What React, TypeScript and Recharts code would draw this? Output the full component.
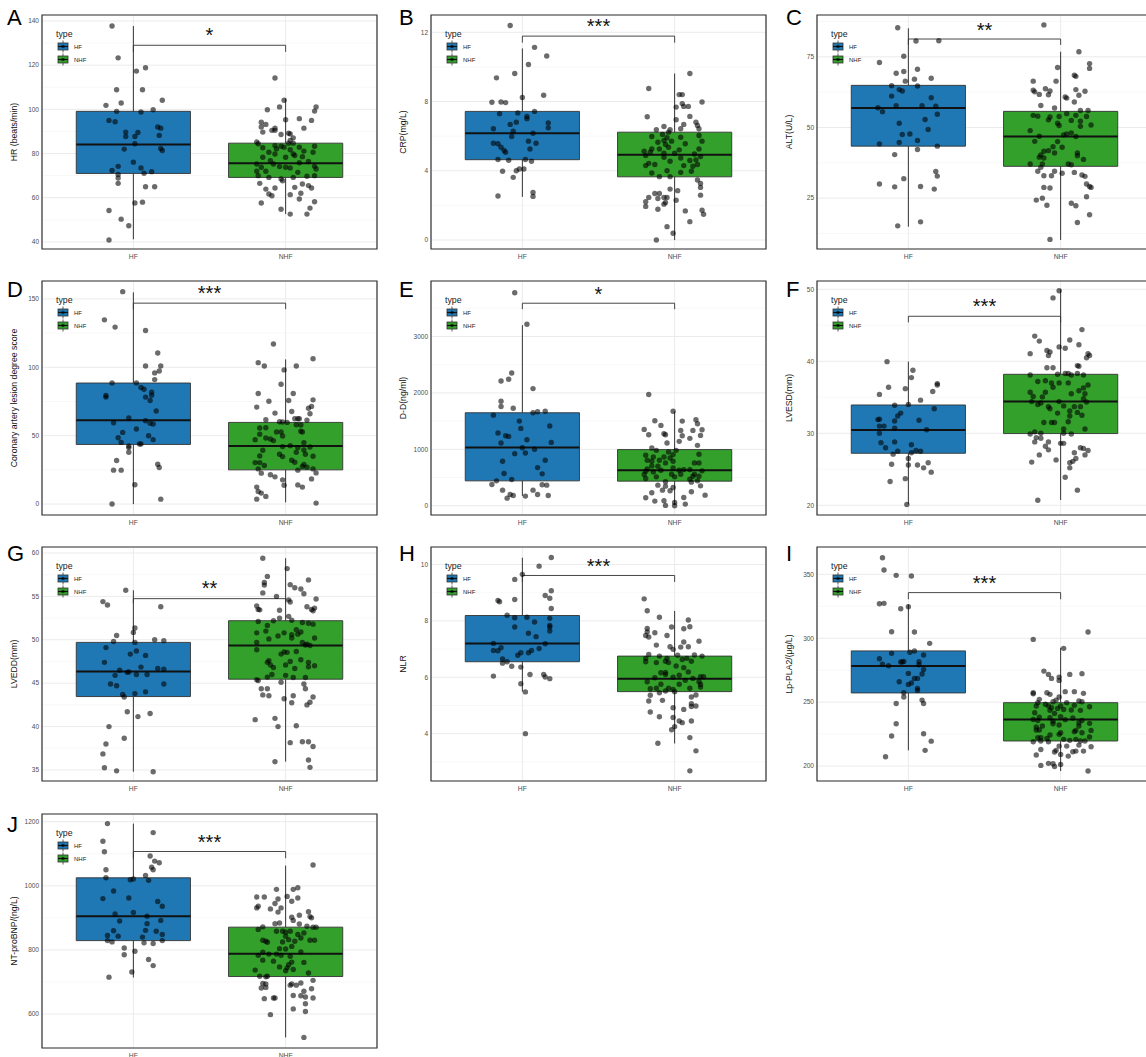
import React from 'react';
import {
  ScatterChart, Scatter, XAxis, YAxis, CartesianGrid, ReferenceArea, ReferenceLine,
  ReferenceDot, Legend, Label,
} from 'recharts';

const FONT = '"Liberation Sans", Arial, Helvetica, sans-serif';
const groups = ['HF', 'NHF'];
const groupColors = ['#1f78b4', '#33a02c'];

// box stats are [lower whisker, q1, median, q3, upper whisker]
// bracket is [bracket y, tick end y, star centre y]

// A – HR
const hrTicks = [40, 60, 80, 100, 120, 140];
const hrMinor = [50, 70, 90, 110, 130];
const hrDomain = [36.8, 142.7];
const hrBoxHF = [41.2, 71.0, 84.1, 99.1, 137.7];
const hrBoxNHF = [52.6, 69.2, 75.6, 84.7, 104.9];
const hrBracket = [129, 126, 135.5];
const hrHF = [[-0.14,137.7],[-0.10,123.3],[-0.11,108.9],[0.02,117.3],[0.08,118.8],[0.06,108.9],[-0.18,101.8],[-0.08,102.9],[0.19,104.1],[-0.11,99.1],[0.13,99.8],[0.05,98.8],[-0.16,95.0],[-0.12,94.4],[-0.05,89.7],[-0.05,87.7],[0.03,89.5],[0.01,87.7],[0.16,92.0],[0.18,91.5],[0.17,88.2],[0.01,84.4],[-0.06,82.0],[0.18,82.3],[0.19,81.4],[0.0,76.1],[-0.10,74.2],[0.05,73.5],[-0.14,72.3],[0.12,71.8],[0.07,71.1],[-0.10,70.5],[-0.10,68.9],[-0.10,66.5],[0.08,65.0],[0.14,65.0],[0.01,57.6],[0.06,58.0],[-0.16,54.2],[-0.08,50.3],[-0.03,47.3],[-0.16,40.9]];
const hrNHF = [[-0.07,114.2],[-0.01,104.1],[-0.04,101.1],[-0.12,99.8],[0.20,101.1],[0.19,99.2],[0.0,95.3],[0.09,95.8],[0.17,95.0],[-0.16,94.2],[-0.13,93.2],[-0.16,92.0],[-0.07,91.5],[-0.09,90.5],[-0.07,90.5],[0.12,91.5],[-0.15,89.7],[0.02,89.2],[0.03,88.9],[-0.03,88.6],[0.03,85.9],[0.05,87.1],[-0.19,85.2],[-0.18,84.4],[0.02,84.7],[0.05,84.7],[-0.07,83.6],[-0.03,83.3],[0.19,83.3],[0.09,82.9],[-0.01,82.9],[-0.15,82.6],[-0.06,82.1],[0.03,81.7],[0.12,81.1],[0.18,80.6],[-0.11,80.6],[-0.07,79.8],[0.05,79.8],[0.06,79.1],[-0.15,78.3],[0.0,78.3],[0.11,78.6],[-0.10,76.8],[0.09,75.8],[-0.19,75.3],[-0.08,75.3],[0.15,76.4],[-0.16,73.8],[-0.04,74.1],[0.0,73.8],[0.03,73.5],[0.19,74.2],[0.20,73.0],[-0.19,72.0],[-0.13,72.0],[0.08,71.5],[-0.18,70.0],[-0.11,69.2],[-0.03,68.5],[0.05,69.2],[0.14,69.7],[0.19,70.0],[-0.02,67.7],[-0.17,66.5],[0.11,66.2],[0.15,65.5],[0.17,64.4],[-0.13,63.9],[-0.07,64.4],[0.06,64.7],[-0.11,61.7],[-0.09,60.9],[0.10,62.0],[0.03,61.4],[-0.16,57.6],[0.19,58.2],[0.09,59.4],[-0.03,54.8],[0.16,55.3],[0.03,52.6],[0.14,52.6]];

// B – CRP
const crpTicks = [0, 4, 8, 12];
const crpMinor = [2, 6, 10];
const crpDomain = [-0.52, 13.0];
const crpBoxHF = [2.49, 4.64, 6.17, 7.43, 11.07];
const crpBoxNHF = [0.0, 3.65, 4.93, 6.23, 9.62];
const crpBracket = [11.78, 11.4, 12.6];
const crpHF = [[-0.08,12.39],[0.08,11.13],[0.16,10.63],[0.04,10.14],[-0.17,9.37],[-0.05,9.62],[0.14,8.36],[0.0,8.23],[-0.20,7.96],[-0.14,7.97],[-0.11,7.94],[0.08,7.43],[-0.15,7.30],[-0.03,7.34],[0.03,7.14],[0.03,7.01],[-0.08,6.68],[-0.04,6.81],[0.17,6.76],[-0.19,6.43],[0.17,6.48],[-0.06,6.29],[0.07,6.17],[-0.07,5.98],[-0.19,5.59],[-0.16,5.56],[0.04,5.71],[0.09,5.59],[-0.14,5.36],[-0.12,5.17],[-0.11,5.07],[0.05,5.26],[-0.16,4.65],[-0.09,4.61],[0.02,4.65],[0.06,4.55],[-0.02,4.10],[0.01,4.10],[-0.04,4.0],[-0.13,3.97],[-0.06,3.62],[-0.16,2.54],[0.07,2.75],[0.07,2.52]];
const crpNHF = [[0.10,9.62],[-0.17,8.75],[0.03,8.40],[0.05,8.40],[0.18,7.97],[0.05,7.88],[0.01,7.68],[0.06,7.72],[0.09,7.72],[-0.18,7.12],[0.10,7.14],[0.01,6.95],[0.06,6.68],[0.14,6.81],[0.15,6.62],[-0.07,6.56],[-0.12,6.37],[-0.03,6.37],[0.04,6.43],[0.16,6.43],[-0.04,6.23],[-0.08,6.10],[-0.15,5.98],[0.04,5.94],[0.16,6.04],[-0.05,5.91],[-0.07,5.75],[-0.11,5.65],[-0.02,5.71],[0.18,5.71],[0.07,5.56],[-0.06,5.52],[-0.04,5.36],[-0.15,5.26],[-0.10,5.26],[0.03,5.21],[0.16,5.26],[-0.20,5.13],[-0.16,5.07],[-0.07,5.01],[0.0,5.01],[0.13,4.97],[-0.19,4.88],[0.17,4.82],[-0.07,4.78],[0.04,4.74],[-0.17,4.43],[-0.03,4.55],[0.10,4.59],[0.14,4.63],[-0.19,4.30],[-0.13,4.36],[0.06,4.30],[0.12,4.26],[0.15,4.36],[-0.05,4.0],[0.04,3.91],[0.11,3.97],[-0.15,3.87],[-0.10,3.66],[-0.03,3.66],[0.15,3.47],[0.17,3.27],[0.17,3.04],[-0.03,2.94],[0.02,2.85],[-0.13,2.69],[-0.10,2.69],[0.17,2.59],[-0.17,2.46],[-0.11,2.40],[-0.07,2.46],[-0.05,2.46],[0.01,2.30],[-0.19,2.21],[-0.06,2.17],[-0.07,2.07],[-0.19,1.94],[-0.11,1.78],[0.07,1.68],[0.18,1.72],[0.19,1.49],[0.10,1.06],[-0.05,0.77],[-0.01,0.39],[-0.12,0.0]];

// C – ALT
const altTicks = [25, 50, 75];
const altMinor = [12.5, 37.5, 62.5, 87.5];
const altDomain = [7.0, 89.8];
const altBoxHF = [14.9, 43.4, 56.9, 64.9, 85.1];
const altBoxNHF = [10.2, 36.25, 46.8, 55.7, 76.8];
const altBracket = [81.3, 79.2, 86];
const altHF = [[-0.07,85.3],[0.05,80.6],[0.20,80.7],[-0.19,73.0],[-0.03,75.2],[-0.08,69.2],[-0.03,69.8],[0.06,70.6],[0.15,67.4],[-0.02,66.4],[0.04,67.1],[-0.11,64.8],[0.06,64.7],[-0.06,63.4],[-0.04,62.9],[-0.11,61.1],[0.15,60.5],[-0.08,57.7],[0.09,57.7],[-0.20,57.0],[0.18,57.5],[-0.17,55.6],[0.19,54.7],[0.11,52.8],[-0.06,51.5],[0.13,49.3],[0.01,47.7],[-0.04,47.5],[0.06,45.4],[-0.06,44.7],[-0.19,44.2],[0.19,43.4],[0.06,42.2],[-0.09,40.4],[0.18,34.4],[0.19,32.8],[-0.03,31.9],[-0.19,30.0],[-0.09,29.0],[0.08,29.1],[0.17,28.2],[0.08,16.6],[-0.07,15.2]];
const altNHF = [[-0.11,86.3],[0.12,76.8],[0.19,72.6],[0.19,70.9],[-0.02,71.2],[-0.18,66.4],[-0.03,66.4],[0.09,68.5],[0.10,68.1],[-0.18,63.2],[-0.10,63.7],[-0.17,62.6],[-0.14,61.7],[-0.07,62.9],[-0.08,61.6],[0.10,63.4],[0.16,62.8],[0.03,60.8],[0.12,61.4],[0.04,60.4],[0.09,59.0],[-0.13,57.8],[-0.04,56.9],[0.13,56.0],[0.18,56.0],[-0.18,54.3],[-0.15,54.0],[-0.07,53.7],[-0.01,53.9],[0.04,54.9],[0.10,54.3],[0.17,53.9],[-0.08,52.7],[-0.02,51.5],[0.07,52.5],[0.13,52.2],[0.20,50.9],[-0.01,50.7],[0.13,50.4],[-0.20,48.9],[0.04,47.7],[0.07,48.1],[0.02,47.4],[-0.14,46.9],[0.10,46.8],[-0.17,45.1],[-0.02,45.0],[-0.05,43.2],[0.01,43.0],[-0.08,41.8],[-0.11,41.6],[-0.04,41.0],[0.11,41.0],[-0.13,40.3],[0.11,40.0],[-0.14,39.5],[-0.11,39.2],[0.15,38.7],[-0.20,37.1],[-0.12,37.1],[0.05,37.1],[0.07,36.8],[-0.13,35.9],[-0.15,34.5],[-0.04,34.5],[0.01,33.8],[0.09,34.1],[-0.11,32.9],[-0.06,32.9],[0.14,33.2],[0.16,32.7],[0.17,30.0],[0.19,29.1],[0.20,28.8],[-0.11,28.8],[-0.07,28.6],[0.17,25.5],[-0.16,24.3],[-0.12,25.0],[0.07,23.2],[-0.09,22.5],[0.10,22.3],[0.19,19.1],[0.11,16.4],[-0.07,10.4]];

// D – coronary lesion score
const calTicks = [0, 50, 100, 150];
const calMinor = [25, 75, 125];
const calDomain = [-8.0, 163.1];
const calBoxHF = [0, 43.6, 61.3, 88.5, 154.8];
const calBoxNHF = [1.2, 25.0, 42.4, 59.7, 105.8];
const calBracket = [146.9, 142.5, 157.8];
const calHF = [[-0.07,155.3],[-0.19,134.7],[-0.12,129.4],[0.08,126.9],[0.16,110.4],[0.18,101.0],[0.08,101.0],[0.17,97.3],[0.14,95.9],[0.14,91.0],[-0.14,88.6],[0.02,88.6],[0.05,85.2],[0.07,84.0],[0.12,81.8],[0.12,79.6],[-0.18,79.4],[-0.18,78.2],[0.08,78.2],[0.11,75.7],[0.15,68.0],[-0.03,62.9],[0.08,60.9],[-0.13,59.5],[0.11,59.0],[0.13,58.5],[0.02,54.9],[-0.07,52.4],[0.10,50.0],[-0.10,48.5],[0.13,47.1],[-0.08,45.1],[0.04,43.9],[0.05,43.9],[-0.03,42.5],[-0.03,41.3],[-0.03,37.9],[-0.11,31.8],[0.16,29.1],[0.17,26.7],[-0.13,24.8],[-0.08,24.8],[0.01,14.1],[0.18,3.6],[-0.14,0.0]];
const calNHF = [[-0.08,117.0],[0.18,106.3],[-0.18,103.4],[-0.14,101.0],[0.07,101.0],[-0.01,98.1],[-0.03,87.6],[-0.18,80.8],[0.05,80.8],[-0.11,75.2],[0.18,76.2],[0.02,75.7],[-0.19,70.9],[0.17,71.4],[0.15,70.1],[0.04,67.7],[-0.07,66.5],[0.16,66.0],[-0.13,61.7],[0.06,62.4],[0.08,62.4],[0.09,62.4],[0.14,61.4],[-0.04,60.2],[0.01,59.7],[-0.02,60.0],[0.07,58.0],[0.10,57.8],[-0.17,55.6],[-0.13,55.8],[-0.06,52.7],[-0.03,52.7],[0.10,53.2],[0.11,52.7],[-0.17,51.0],[-0.02,49.8],[-0.13,48.3],[-0.10,47.6],[-0.20,47.1],[-0.08,46.4],[0.12,44.9],[0.03,42.7],[-0.02,42.0],[0.16,41.7],[0.08,41.3],[0.12,39.6],[-0.15,39.3],[0.07,37.9],[-0.04,36.4],[-0.02,34.7],[0.13,36.4],[0.18,35.0],[-0.17,35.2],[0.04,32.0],[0.06,30.6],[-0.20,30.3],[-0.17,30.3],[0.12,28.9],[-0.14,28.2],[0.11,27.5],[0.14,27.0],[-0.18,25.7],[0.08,24.8],[0.18,25.7],[-0.16,22.6],[-0.10,21.4],[0.20,22.8],[-0.07,19.9],[-0.02,17.7],[0.17,18.4],[-0.01,13.7],[0.08,14.0],[0.11,12.4],[-0.19,12.4],[-0.18,9.2],[-0.16,8.0],[-0.13,5.6],[-0.19,3.6],[0.20,0.7]];

// E – D-dimer
const ddTicks = [0, 1000, 2000, 3000];
const ddMinor = [500, 1500, 2500, 3500];
const ddDomain = [-164, 3983];
const ddBoxHF = [176, 441, 1031, 1648, 3200];
const ddBoxNHF = [10, 436, 630, 995, 1671];
const ddBracket = [3589, 3483, 3836];
const ddHF = [[-0.05,3776],[0.03,3217],[-0.07,2353],[-0.09,2241],[-0.14,2212],[0.07,2076],[-0.14,1853],[-0.14,1759],[-0.06,1729],[0.15,1676],[0.10,1665],[0.07,1647],[-0.19,1606],[-0.02,1500],[0.18,1412],[-0.01,1371],[-0.16,1288],[-0.11,1241],[-0.09,1229],[0.03,1170],[0.19,1123],[-0.14,1112],[0.0,1029],[0.08,1000],[0.02,935],[-0.05,923],[-0.13,788],[0.15,806],[0.10,676],[-0.12,571],[0.13,565],[-0.07,465],[-0.17,441],[-0.20,376],[0.13,371],[0.16,365],[-0.13,276],[0.07,276],[-0.08,200],[-0.06,182],[0.10,200],[0.17,182],[0.02,171],[-0.10,135]];
const ddNHF = [[-0.17,1971],[-0.01,1676],[-0.13,1506],[0.05,1500],[0.14,1524],[0.15,1453],[-0.09,1424],[-0.20,1353],[0.12,1335],[0.18,1347],[0.04,1335],[-0.07,1276],[-0.06,1259],[-0.17,1259],[0.05,1241],[0.17,1247],[0.10,1194],[0.03,1141],[-0.05,1112],[-0.15,1023],[0.15,1070],[-0.12,982],[0.01,982],[-0.04,953],[-0.01,906],[-0.19,894],[0.16,912],[-0.14,865],[-0.07,865],[-0.03,847],[-0.18,806],[-0.10,806],[-0.15,788],[-0.01,788],[0.13,759],[0.16,759],[-0.06,759],[-0.15,706],[-0.11,700],[-0.01,671],[-0.18,653],[0.06,641],[0.10,641],[-0.09,629],[0.03,629],[0.18,618],[-0.19,612],[-0.14,600],[0.04,559],[-0.02,559],[0.13,559],[-0.20,553],[0.12,523],[0.16,523],[-0.12,512],[0.0,512],[-0.19,482],[0.10,471],[0.15,441],[0.11,418],[-0.06,424],[0.17,353],[-0.11,365],[-0.06,347],[-0.01,324],[-0.08,276],[-0.15,229],[-0.03,265],[0.11,247],[0.20,188],[-0.19,141],[0.06,147],[-0.13,82],[-0.07,88],[0.0,59],[0.07,29],[-0.06,6],[0.0,0]];

// F – LVESD
const lvesdTicks = [20, 30, 40, 50];
const lvesdMinor = [25, 35, 45];
const lvesdDomain = [18.65, 51.15];
const lvesdBoxHF = [20.14, 27.22, 30.46, 33.93, 39.96];
const lvesdBoxNHF = [20.74, 29.96, 34.4, 38.19, 50.0];
const lvesdBracket = [46.25, 45.4, 48.3];
const lvesdHF = [[-0.14,39.95],[0.03,38.75],[0.02,37.73],[0.19,36.9],[0.19,36.7],[-0.13,36.4],[-0.02,36.2],[0.16,35.8],[-0.19,35.4],[0.08,34.6],[-0.09,33.9],[0.0,34.0],[0.17,33.4],[-0.05,32.8],[-0.07,32.4],[-0.20,31.9],[-0.19,31.95],[0.07,31.8],[-0.09,31.7],[-0.19,31.0],[-0.16,31.0],[-0.09,30.7],[0.12,30.5],[-0.19,30.0],[-0.18,28.7],[-0.09,28.8],[-0.15,28.0],[0.02,28.4],[0.08,27.5],[-0.07,27.5],[0.05,27.6],[-0.10,27.1],[0.02,27.3],[0.0,26.5],[-0.11,25.7],[0.0,25.6],[0.06,25.6],[0.13,25.9],[0.10,25.2],[0.15,24.6],[-0.02,23.7],[-0.12,23.3],[-0.01,20.1]];
const lvesdNHF = [[-0.01,49.8],[-0.05,48.8],[0.14,44.4],[-0.17,43.5],[-0.14,42.8],[0.06,42.96],[0.12,42.3],[-0.01,42.0],[-0.09,41.5],[-0.07,41.3],[0.03,41.8],[-0.20,41.06],[-0.08,40.8],[0.18,41.06],[0.19,40.8],[0.17,40.5],[-0.09,39.1],[-0.05,39.1],[0.11,39.4],[0.12,39.3],[-0.02,38.2],[0.03,38.3],[0.05,38.3],[0.11,38.3],[0.07,38.1],[0.15,38.1],[-0.20,38.1],[-0.10,37.3],[-0.15,37.2],[-0.06,37.0],[-0.01,37.0],[0.05,37.0],[0.18,36.7],[-0.05,36.4],[0.15,36.3],[0.12,35.9],[-0.20,35.7],[-0.10,35.7],[0.07,35.5],[0.16,35.5],[-0.18,35.1],[-0.12,35.05],[0.15,34.8],[-0.19,34.4],[-0.13,34.2],[-0.15,34.0],[-0.01,34.4],[0.17,34.35],[0.02,33.8],[-0.08,33.7],[0.09,33.7],[0.13,33.7],[0.06,33.1],[0.11,32.9],[-0.02,32.8],[-0.07,33.4],[0.06,32.4],[0.14,32.5],[-0.11,31.5],[-0.06,31.5],[-0.04,31.5],[0.05,31.6],[0.02,30.6],[0.16,30.6],[-0.17,30.2],[-0.20,29.9],[-0.13,30.0],[0.02,30.0],[0.07,29.9],[-0.16,29.4],[-0.13,29.3],[-0.17,28.8],[-0.08,28.8],[0.0,28.6],[0.02,28.6],[0.13,28.0],[0.15,27.9],[0.18,27.6],[-0.10,28.2],[-0.08,27.7],[-0.14,27.0],[0.16,27.0],[0.09,27.3],[-0.03,26.3],[0.10,26.5],[-0.19,26.0],[0.06,25.9],[0.08,26.1],[0.06,25.2],[0.03,23.9],[0.11,22.1],[-0.15,20.7]];

// G – LVEDD
const lveddTicks = [35, 40, 45, 50, 55, 60];
const lveddMinor = [37.5, 42.5, 47.5, 52.5, 57.5];
const lveddDomain = [33.73, 60.69];
const lveddBoxHF = [34.8, 43.46, 46.35, 49.7, 55.7];
const lveddBoxNHF = [35.96, 45.46, 49.35, 52.2, 59.4];
const lveddBracket = [54.74, 54.2, 56.5];
const lveddHF = [[-0.05,55.7],[-0.20,54.4],[-0.17,54.0],[0.18,53.8],[0.01,51.35],[0.0,50.85],[-0.11,50.5],[-0.13,49.8],[0.14,50.0],[0.20,49.9],[0.01,49.7],[-0.18,49.1],[0.02,48.7],[-0.02,48.35],[0.08,48.2],[-0.19,47.4],[0.05,46.85],[0.16,46.7],[0.20,46.6],[-0.09,46.5],[-0.03,46.3],[-0.04,46.25],[0.09,46.0],[0.02,46.0],[-0.12,45.9],[-0.15,44.9],[-0.11,44.7],[0.20,44.9],[0.08,44.0],[0.01,43.8],[-0.07,43.7],[-0.06,43.4],[-0.04,41.7],[0.11,41.5],[0.03,41.15],[-0.16,40.0],[-0.06,38.65],[-0.18,38.0],[-0.20,36.85],[-0.19,35.25],[-0.11,34.9],[0.13,34.8]];
const lveddNHF = [[-0.15,59.4],[0.01,58.2],[-0.12,57.3],[0.15,56.9],[-0.14,56.6],[-0.14,56.3],[0.03,56.35],[0.06,56.0],[0.10,55.85],[-0.15,55.4],[0.12,55.3],[-0.06,55.0],[0.20,54.7],[0.02,54.6],[0.03,54.35],[-0.19,53.9],[-0.18,53.5],[-0.17,53.45],[-0.04,53.4],[0.14,53.8],[0.17,53.5],[0.19,53.65],[0.18,53.35],[0.02,52.7],[-0.04,52.5],[-0.08,52.2],[-0.18,52.1],[0.04,52.25],[0.11,52.0],[0.15,51.9],[0.18,51.8],[-0.12,51.65],[0.07,51.15],[-0.13,51.0],[-0.19,50.8],[0.10,50.9],[-0.01,50.8],[0.08,50.65],[-0.05,50.45],[0.04,50.6],[0.04,50.2],[0.19,50.2],[-0.11,50.1],[-0.19,49.7],[0.11,49.7],[0.14,49.5],[0.16,49.35],[0.13,49.4],[-0.19,48.85],[-0.01,48.6],[0.07,48.65],[0.01,48.55],[-0.03,48.35],[-0.11,47.6],[0.03,47.5],[0.10,47.7],[-0.12,47.4],[0.15,47.4],[-0.10,47.1],[0.0,47.1],[0.15,46.9],[0.19,47.0],[-0.08,46.8],[0.06,46.7],[-0.09,46.0],[0.0,45.9],[0.05,45.65],[0.13,45.65],[-0.12,45.7],[-0.19,45.4],[-0.18,45.3],[-0.03,45.1],[0.12,44.9],[-0.16,44.35],[-0.12,44.35],[0.13,44.35],[-0.15,43.65],[-0.11,43.55],[0.05,43.55],[0.18,43.4],[0.16,42.8],[-0.01,43.2],[0.04,42.75],[0.14,42.5],[-0.20,40.8],[-0.07,40.95],[0.07,40.1],[-0.05,40.0],[0.03,38.15],[0.11,38.25],[0.15,38.25],[0.18,37.7],[-0.07,35.95],[0.15,36.15],[0.16,35.3]];

// H – NLR
const nlrTicks = [4, 6, 8, 10];
const nlrMinor = [3, 5, 7, 9];
const nlrDomain = [2.32, 10.62];
const nlrBoxHF = [5.49, 6.55, 7.2, 8.19, 10.24];
const nlrBoxNHF = [3.65, 5.49, 5.95, 6.75, 8.35];
const nlrBracket = [9.61, 9.38, 10.12];
const nlrHF = [[0.19,10.25],[0.11,9.94],[0.0,9.65],[-0.05,9.47],[0.19,9.07],[0.15,8.9],[0.18,8.8],[-0.05,8.76],[-0.16,8.72],[-0.15,8.68],[0.19,8.44],[-0.10,8.2],[-0.05,8.11],[0.03,8.13],[0.18,8.09],[0.08,7.96],[0.18,7.84],[0.18,7.78],[-0.05,7.78],[0.18,7.64],[0.04,7.56],[0.09,7.44],[-0.19,7.2],[0.15,7.19],[-0.14,7.05],[0.11,7.02],[-0.19,6.95],[-0.16,6.94],[0.06,6.95],[0.04,6.87],[-0.01,6.87],[-0.03,6.78],[-0.13,6.65],[-0.10,6.55],[-0.13,6.5],[-0.07,6.39],[-0.01,6.36],[-0.19,6.04],[0.05,6.1],[0.14,6.1],[0.15,6.01],[0.18,5.95],[-0.01,5.77],[0.02,5.48],[0.02,4.0]];
const nlrNHF = [[-0.20,8.78],[-0.18,8.36],[-0.10,8.13],[0.09,8.03],[0.10,7.79],[-0.02,7.78],[-0.18,7.73],[0.06,7.72],[-0.18,7.61],[-0.13,7.58],[-0.19,7.48],[-0.05,7.48],[-0.17,7.43],[0.16,7.28],[0.06,7.25],[-0.12,7.14],[-0.03,7.08],[0.04,7.07],[0.09,7.08],[-0.01,6.99],[-0.17,6.81],[-0.10,6.75],[0.02,6.78],[0.13,6.79],[0.18,6.75],[-0.05,6.67],[-0.19,6.67],[0.08,6.67],[0.05,6.63],[-0.06,6.57],[0.11,6.57],[-0.19,6.55],[-0.12,6.52],[-0.04,6.52],[0.01,6.4],[0.06,6.34],[-0.09,6.16],[-0.06,6.17],[0.09,6.19],[-0.06,6.1],[0.03,6.07],[-0.13,5.98],[-0.01,6.0],[0.17,6.02],[0.19,6.02],[0.12,5.96],[0.07,5.89],[0.16,5.84],[-0.18,5.84],[0.03,5.75],[-0.09,5.75],[0.17,5.75],[-0.04,5.61],[-0.16,5.59],[-0.01,5.57],[0.10,5.61],[-0.12,5.61],[0.17,5.65],[0.0,5.49],[-0.10,5.45],[-0.06,5.51],[0.14,5.37],[-0.16,5.36],[0.11,5.3],[-0.17,5.16],[-0.08,5.18],[0.11,5.06],[0.14,4.98],[0.11,4.96],[-0.01,4.92],[0.06,4.86],[-0.16,4.77],[-0.10,4.6],[-0.01,4.57],[0.03,4.45],[0.05,4.39],[0.11,4.45],[0.0,4.25],[-0.02,4.14],[0.10,3.86],[-0.11,3.66],[0.14,3.39],[0.10,2.68]];

// I – Lp-PLA2
const plaTicks = [200, 250, 300, 350];
const plaMinor = [225, 275, 325];
const plaDomain = [188.3, 371.4];
const plaBoxHF = [212.3, 257.2, 278.3, 290.1, 326.5];
const plaBoxNHF = [196.1, 219.6, 236.5, 249.6, 292.6];
const plaBracket = [335.7, 330.5, 346.9];
const plaHF = [[-0.17,363.0],[-0.16,353.4],[-0.08,349.2],[0.02,348.7],[-0.19,327.0],[-0.16,327.3],[0.0,324.7],[-0.05,323.1],[-0.11,305.1],[0.04,304.9],[0.14,296.0],[0.04,290.0],[0.01,289.0],[-0.11,288.2],[0.10,286.9],[-0.19,284.0],[-0.05,281.4],[-0.04,281.4],[-0.03,281.9],[0.07,281.6],[-0.17,279.6],[-0.13,278.5],[0.07,279.3],[0.10,275.6],[0.0,272.5],[0.09,272.0],[0.04,268.6],[0.06,268.6],[-0.06,266.0],[0.02,265.0],[0.0,263.9],[0.06,260.8],[0.06,259.2],[-0.03,257.4],[-0.03,254.0],[0.09,251.6],[0.10,249.0],[-0.08,249.0],[-0.08,233.1],[0.10,225.3],[-0.11,223.5],[0.15,219.5],[0.11,212.3],[-0.15,207.3]];
const plaNHF = [[0.18,304.9],[-0.18,299.1],[0.02,292.1],[-0.11,274.3],[-0.08,271.7],[0.06,271.7],[0.14,272.3],[-0.01,269.6],[-0.06,268.6],[-0.01,267.0],[-0.18,257.4],[-0.18,256.6],[-0.09,257.4],[-0.07,256.1],[0.03,258.2],[0.09,258.2],[0.15,256.9],[-0.14,252.2],[-0.01,254.0],[-0.03,251.6],[0.12,250.9],[-0.05,250.3],[-0.15,249.6],[0.04,249.6],[0.14,250.3],[-0.10,248.3],[-0.16,247.0],[-0.08,247.0],[0.0,247.0],[0.09,247.5],[0.19,246.4],[-0.06,245.6],[-0.02,245.1],[0.02,244.3],[-0.07,243.6],[0.07,243.8],[0.13,243.6],[-0.17,241.7],[-0.04,241.2],[-0.14,238.3],[0.0,238.6],[-0.07,237.8],[0.08,237.6],[-0.18,236.4],[-0.15,235.6],[-0.05,235.1],[0.03,236.3],[0.14,235.6],[0.12,233.9],[0.19,233.4],[-0.05,233.1],[-0.01,232.1],[-0.16,230.5],[-0.12,231.3],[0.12,231.3],[-0.14,228.2],[-0.16,228.2],[0.20,227.9],[0.09,226.9],[0.10,227.9],[0.0,226.1],[0.14,226.1],[-0.07,224.3],[-0.01,224.8],[0.19,222.7],[-0.15,222.2],[-0.13,222.2],[-0.09,221.6],[0.02,220.9],[0.10,220.9],[0.13,219.6],[0.16,219.6],[-0.18,219.0],[-0.13,219.6],[-0.08,219.0],[0.06,220.1],[0.20,215.1],[-0.01,215.6],[0.04,215.6],[0.12,216.4],[-0.13,213.0],[-0.03,212.3],[-0.04,211.0],[0.08,211.2],[0.10,211.7],[0.15,211.7],[-0.16,208.6],[0.0,209.1],[0.05,207.8],[-0.08,202.1],[-0.05,201.8],[-0.04,199.7],[-0.13,200.5],[0.0,201.3],[0.18,196.1]];

// J – NT-proBNP
const bnpTicks = [600, 800, 1000, 1200];
const bnpMinor = [700, 900, 1100];
const bnpDomain = [494, 1224];
const bnpBoxHF = [714, 829, 905, 1025, 1194];
const bnpBoxNHF = [527, 717, 788, 871, 1063];
const bnpBracket = [1107, 1086, 1152];
const bnpHF = [[-0.17,1194],[0.13,1166],[-0.20,1139],[-0.19,1106],[0.11,1093],[0.14,1077],[0.17,1072],[0.12,1058],[0.13,1050],[-0.18,1050],[-0.18,1025],[0.08,1032],[-0.02,1019],[0.0,1021],[0.10,1017],[-0.13,984],[-0.20,960],[-0.03,962],[0.16,951],[0.19,936],[-0.12,912],[0.0,917],[0.09,905],[-0.09,890],[0.18,892],[0.09,882],[-0.13,860],[0.08,861],[0.15,858],[-0.17,845],[-0.10,843],[0.19,848],[0.06,840],[-0.17,829],[0.19,829],[-0.14,825],[0.07,822],[0.13,820],[-0.06,806],[0.01,796],[-0.06,785],[0.10,770],[0.13,751],[-0.01,731],[-0.16,715]];
const bnpNHF = [[0.18,1065],[-0.06,989],[0.05,989],[0.08,994],[0.01,967],[-0.19,965],[-0.14,965],[0.08,962],[-0.05,959],[0.04,952],[-0.07,945],[-0.18,936],[-0.19,931],[-0.03,931],[-0.10,928],[-0.05,918],[0.15,919],[0.09,908],[0.16,904],[0.17,900],[0.04,902],[0.05,892],[0.09,881],[-0.07,882],[-0.04,884],[0.14,874],[0.18,871],[0.20,871],[-0.15,872],[-0.18,864],[-0.06,858],[-0.02,858],[0.0,855],[0.03,858],[0.08,848],[0.12,853],[0.10,837],[0.0,843],[0.02,832],[0.06,827],[0.16,830],[0.19,830],[-0.15,830],[-0.13,827],[-0.12,824],[-0.02,825],[0.04,811],[-0.04,804],[0.0,803],[-0.15,793],[-0.11,787],[-0.06,787],[0.10,794],[-0.18,783],[-0.03,783],[0.03,780],[-0.15,768],[-0.08,765],[0.04,762],[0.12,761],[0.02,754],[-0.04,747],[0.01,744],[0.05,739],[-0.20,737],[0.0,735],[0.15,728],[-0.17,718],[-0.12,718],[-0.13,716],[0.18,705],[-0.15,695],[-0.13,694],[0.04,694],[0.10,697],[0.03,690],[0.07,690],[-0.16,681],[-0.13,683],[0.17,679],[0.12,671],[0.05,658],[0.10,657],[0.13,653],[-0.14,648],[-0.08,650],[-0.07,650],[0.18,650],[0.13,632],[0.05,616],[0.13,608],[-0.10,598],[0.12,527]];

const colLeft = [42, 431, 817];
const rowTop = [15, 281, 547, 814];
const letterLeft = [7, 399, 786];
const letterTop = [7, 279, 543, 814];

const panels = [
  { tag: 'A', title: 'HR (beats/min)', stars: '*', row: 0, col: 0, ticks: hrTicks, minor: hrMinor, domain: hrDomain, boxes: [hrBoxHF, hrBoxNHF], points: [hrHF, hrNHF], bracket: hrBracket },
  { tag: 'B', title: 'CRP(mg/L)', stars: '***', row: 0, col: 1, ticks: crpTicks, minor: crpMinor, domain: crpDomain, boxes: [crpBoxHF, crpBoxNHF], points: [crpHF, crpNHF], bracket: crpBracket },
  { tag: 'C', title: 'ALT(U/L)', stars: '**', row: 0, col: 2, ticks: altTicks, minor: altMinor, domain: altDomain, boxes: [altBoxHF, altBoxNHF], points: [altHF, altNHF], bracket: altBracket },
  { tag: 'D', title: 'Coronary artery lesion degree score', stars: '***', row: 1, col: 0, ticks: calTicks, minor: calMinor, domain: calDomain, boxes: [calBoxHF, calBoxNHF], points: [calHF, calNHF], bracket: calBracket },
  { tag: 'E', title: 'D-D(ng/ml)', stars: '*', row: 1, col: 1, ticks: ddTicks, minor: ddMinor, domain: ddDomain, boxes: [ddBoxHF, ddBoxNHF], points: [ddHF, ddNHF], bracket: ddBracket },
  { tag: 'F', title: 'LVESD(mm)', stars: '***', row: 1, col: 2, ticks: lvesdTicks, minor: lvesdMinor, domain: lvesdDomain, boxes: [lvesdBoxHF, lvesdBoxNHF], points: [lvesdHF, lvesdNHF], bracket: lvesdBracket },
  { tag: 'G', title: 'LVEDD(mm)', stars: '**', row: 2, col: 0, ticks: lveddTicks, minor: lveddMinor, domain: lveddDomain, boxes: [lveddBoxHF, lveddBoxNHF], points: [lveddHF, lveddNHF], bracket: lveddBracket },
  { tag: 'H', title: 'NLR', stars: '***', row: 2, col: 1, ticks: nlrTicks, minor: nlrMinor, domain: nlrDomain, boxes: [nlrBoxHF, nlrBoxNHF], points: [nlrHF, nlrNHF], bracket: nlrBracket },
  { tag: 'I', title: 'Lp-PLA2/(μg/L)', stars: '***', row: 2, col: 2, ticks: plaTicks, minor: plaMinor, domain: plaDomain, boxes: [plaBoxHF, plaBoxNHF], points: [plaHF, plaNHF], bracket: plaBracket },
  { tag: 'J', title: 'NT-proBNP/(ng/L)', stars: '***', row: 3, col: 0, ticks: bnpTicks, minor: bnpMinor, domain: bnpDomain, boxes: [bnpBoxHF, bnpBoxNHF], points: [bnpHF, bnpNHF], bracket: bnpBracket },
];

const BOX_HALF = 0.375;
const Y_AXIS_W = 42;
const PLOT_W = 335;
const PLOT_H = 234;
const TOP = 10;
const X_AXIS_H = 22;

const Dot = (props: any) => (
  <circle cx={props.cx} cy={props.cy} r={2.7} fill="#000" fillOpacity={0.58} />
);

function LegendKey({ color }: { color: string }) {
  return (
    <svg width={14} height={13} style={{ display: 'block' }}>
      <line x1={8} x2={8} y1={0.5} y2={12.5} stroke="#333" strokeWidth={0.8} />
      <rect x={3} y={3} width={10} height={7} fill={color} stroke="#333" strokeWidth={0.8} />
      <line x1={3} x2={13} y1={6.5} y2={6.5} stroke="#111" strokeWidth={1.2} />
      <circle cx={8} cy={6.5} r={1.8} fill="#000" fillOpacity={0.6} />
    </svg>
  );
}

function TypeLegend() {
  return (
    <div style={{ fontFamily: FONT, color: '#1a1a1a' }}>
      <div style={{ fontSize: 8.8, lineHeight: '12px', marginLeft: 1 }}>type</div>
      {groups.map((g, i) => (
        <div key={g} style={{ display: 'flex', alignItems: 'center', height: 13 }}>
          <LegendKey color={groupColors[i]} />
          <span style={{ fontSize: 6, marginLeft: 5 }}>{g}</span>
        </div>
      ))}
    </div>
  );
}

function Panel({ p }: { p: any }) {
  const [b, bt, sy] = p.bracket;
  const left = colLeft[p.col] - Y_AXIS_W;
  const top = rowTop[p.row] - TOP;
  const series = p.points.map((pts: number[][], gi: number) =>
    pts.map(([dx, y]) => ({ x: gi + 1 + dx, y })),
  );
  return (
    <>
      <div style={{ position: 'absolute', left, top }}>
        <ScatterChart
          width={Y_AXIS_W + PLOT_W + 2}
          height={TOP + PLOT_H + X_AXIS_H}
          margin={{ top: TOP, right: 2, bottom: 0, left: 0 }}
        >
          {/* minor lines first, majors on top of them */}
          <CartesianGrid horizontalValues={p.minor} vertical={false} stroke="#f3f3f3" strokeWidth={0.6} />
          <CartesianGrid stroke="#ebebeb" strokeWidth={1} />
          <XAxis
            type="number" dataKey="x" domain={[0.4, 2.6]} ticks={[1, 2]} allowDataOverflow
            interval={0} axisLine={false} tickLine={false} tickSize={0} tickMargin={5}
            height={X_AXIS_H} tickFormatter={(v: number) => groups[v - 1]}
            tick={{ fontSize: 6.8, fill: '#4d4d4d', fontFamily: FONT }}
          />
          <YAxis
            type="number" dataKey="y" domain={p.domain} ticks={p.ticks} allowDataOverflow
            interval={0} axisLine={false} tickLine={false} tickSize={0} tickMargin={3}
            width={Y_AXIS_W} tick={{ fontSize: 6.5, fill: '#4d4d4d', fontFamily: FONT }}
          >
            <Label
              value={p.title} angle={-90} position="insideLeft" offset={14}
              style={{ textAnchor: 'middle', fontSize: 8.7, fill: '#111', fontFamily: FONT }}
            />
          </YAxis>
          {p.boxes.map((s: number[], gi: number) => (
            <ReferenceLine
              key={'wl' + gi}
              segment={[{ x: gi + 1, y: s[0] }, { x: gi + 1, y: s[1] }]}
              stroke="#333" strokeWidth={1}
            />
          ))}
          {p.boxes.map((s: number[], gi: number) => (
            <ReferenceLine
              key={'wh' + gi}
              segment={[{ x: gi + 1, y: s[3] }, { x: gi + 1, y: s[4] }]}
              stroke="#333" strokeWidth={1}
            />
          ))}
          {p.boxes.map((s: number[], gi: number) => (
            <ReferenceArea
              key={'b' + gi}
              x1={gi + 1 - BOX_HALF} x2={gi + 1 + BOX_HALF} y1={s[1]} y2={s[3]}
              fill={groupColors[gi]} fillOpacity={1} stroke="#333" strokeWidth={0.9}
            />
          ))}
          {p.boxes.map((s: number[], gi: number) => (
            <ReferenceLine
              key={'md' + gi}
              segment={[{ x: gi + 1 - BOX_HALF, y: s[2] }, { x: gi + 1 + BOX_HALF, y: s[2] }]}
              stroke="#111" strokeWidth={2}
            />
          ))}
          <ReferenceLine segment={[{ x: 1, y: b }, { x: 2, y: b }]} stroke="#333" strokeWidth={0.9} />
          <ReferenceLine segment={[{ x: 1, y: b }, { x: 1, y: bt }]} stroke="#333" strokeWidth={0.9} />
          <ReferenceLine segment={[{ x: 2, y: b }, { x: 2, y: bt }]} stroke="#333" strokeWidth={0.9} />
          <ReferenceDot
            x={1.5} y={sy} r={0}
            shape={(d: any) => (
              <text x={d.cx} y={d.cy + 11.5} textAnchor="middle" fontSize={20} fill="#111" fontFamily={FONT}>
                {p.stars}
              </text>
            )}
          />
          {series.map((data: any[], gi: number) => (
            <Scatter key={groups[gi]} name={groups[gi]} data={data} shape={Dot} isAnimationActive={false} />
          ))}
          <ReferenceArea
            x1={0.4} x2={2.6} y1={p.domain[0]} y2={p.domain[1]} ifOverflow="visible"
            fill="none" stroke="#333" strokeWidth={1.2}
          />
          <Legend
            layout="horizontal" verticalAlign="middle" align="center"
            wrapperStyle={{ left: Y_AXIS_W + 13, top: TOP + 13, width: 60 }}
            content={() => <TypeLegend />}
          />
        </ScatterChart>
      </div>
      <div
        style={{
          position: 'absolute', left: letterLeft[p.col], top: letterTop[p.row],
          fontFamily: FONT, fontSize: 22, lineHeight: '22px', color: '#000',
        }}
      >
        {p.tag}
      </div>
    </>
  );
}

export default function App() {
  return (
    <div
      style={{
        position: 'absolute', left: 0, top: 0, width: 1146, height: 1057,
        overflow: 'hidden', background: '#fff',
      }}
    >
      {panels.map((p) => (
        <Panel key={p.tag} p={p} />
      ))}
    </div>
  );
}
